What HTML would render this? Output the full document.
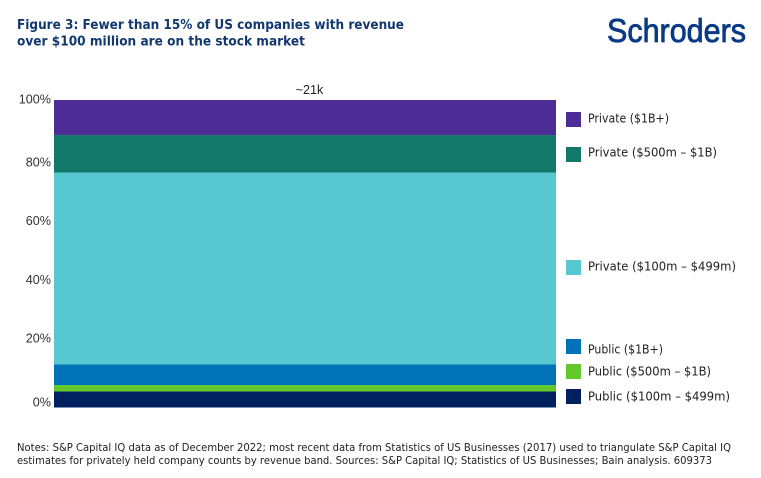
<!DOCTYPE html>
<html lang="en">
<head>
<meta charset="utf-8">
<title>Figure 3: Fewer than 15% of US companies</title>
<style>
html,body{margin:0;padding:0;background:#fff;width:761px;height:478px;overflow:hidden}
svg{display:block}
.ax{font-family:"Liberation Sans",sans-serif;font-size:12.6px;fill:#333}
.leg{font-family:"DejaVu Sans","Liberation Sans",sans-serif;font-size:12px;fill:#222}
.note{font-family:"DejaVu Sans","Liberation Sans",sans-serif;font-size:10.5px;fill:#222}
.ttl{font-family:"DejaVu Sans","Liberation Sans",sans-serif;font-size:13.6px;font-weight:700;fill:#12396f}
</style>
</head>
<body>
<svg id="chart" width="761" height="478" viewBox="0 0 761 478" xmlns="http://www.w3.org/2000/svg">
  <rect width="761" height="478" fill="#fff"/>
  <g>
    <text class="ttl" x="17" y="29" textLength="387" lengthAdjust="spacingAndGlyphs">Figure 3: Fewer than 15% of US companies with revenue</text>
    <text class="ttl" x="17" y="45.500" textLength="288" lengthAdjust="spacingAndGlyphs">over $100 million are on the stock market</text>
  </g>
  <text x="607" y="42" font-family="'Liberation Sans',sans-serif" font-size="33" font-weight="400" fill="#0a3a85" stroke="#0a3a85" stroke-width="0.8" textLength="139" lengthAdjust="spacingAndGlyphs">Schroders</text>
  <text class="ax" x="309.500" y="94" text-anchor="middle" style="fill:#222">~21k</text>
  <g id="bars"></g>
  <g id="ticks"></g>
  <g>
    <g><rect x="566" y="112" width="15" height="15" fill="#4f2d96"/><text class="leg" x="588" y="122.500" textLength="81" lengthAdjust="spacingAndGlyphs">Private ($1B+)</text></g>
    <g><rect x="566" y="147" width="15" height="15" fill="#12786a"/><text class="leg" x="588" y="156.500" textLength="129" lengthAdjust="spacingAndGlyphs">Private ($500m – $1B)</text></g>
    <g><rect x="566" y="260" width="15" height="15" fill="#57c8d0"/><text class="leg" x="588" y="270.500" textLength="148" lengthAdjust="spacingAndGlyphs">Private ($100m – $499m)</text></g>
    <g><rect x="566" y="339" width="15" height="15" fill="#0072b8"/><text class="leg" x="588" y="353.500" textLength="75" lengthAdjust="spacingAndGlyphs">Public ($1B+)</text></g>
    <g><rect x="566" y="364" width="15" height="15" fill="#64c82d"/><text class="leg" x="588" y="375.500" textLength="123" lengthAdjust="spacingAndGlyphs">Public ($500m – $1B)</text></g>
    <g><rect x="566" y="389" width="15" height="15" fill="#00205f"/><text class="leg" x="588" y="400.500" textLength="142" lengthAdjust="spacingAndGlyphs">Public ($100m – $499m)</text></g>
  </g>
  <g>
    <text class="note" x="17" y="451" textLength="714" lengthAdjust="spacingAndGlyphs">Notes: S&amp;P Capital IQ data as of December 2022; most recent data from Statistics of US Businesses (2017) used to triangulate S&amp;P Capital IQ</text>
    <text class="note" x="17" y="464" textLength="695" lengthAdjust="spacingAndGlyphs">estimates for privately held company counts by revenue band. Sources: S&amp;P Capital IQ; Statistics of US Businesses; Bain analysis. 609373</text>
  </g>
</svg>
<script>
const categories = ["Public ($100m – $499m)", "Public ($500m – $1B)", "Public ($1B+)", "Private ($100m – $499m)", "Private ($500m – $1B)", "Private ($1B+)"];
const seriesValues = [5.2, 2.1, 6.7, 62.4, 12.2, 11.4];
const seriesColors = ["#00205f", "#64c82d", "#0072b8", "#57c8d0", "#12786a", "#4f2d96"];
const tickValues = [100, 80, 60, 40, 20, 0];
const tickLabels = ["100%", "80%", "60%", "40%", "20%", "0%"];

const NS = "http://www.w3.org/2000/svg";
const plot = { left: 54, right: 556, top: 100, bottom: 407.5 };
const total = seriesValues.reduce(function (a, b) { return a + b; }, 0);
function yScale(v) { return plot.bottom - (v / total) * (plot.bottom - plot.top); }
/* The source places its tick labels by hand: inner ticks evenly spaced, end ticks pushed outward. */
function tickY(v) {
  const y = 396.7 - (v / 100) * 293.4;
  if (v === 100) return y - 4.3;
  if (v === 0) return y + 5.3;
  return y;
}

const barsGroup = document.getElementById("bars");
let cumulative = 0;
seriesValues.forEach(function (val, i) {
  const rect = document.createElementNS(NS, "rect");
  const y0 = yScale(cumulative);
  const y1 = yScale(cumulative + val);
  rect.setAttribute("x", plot.left);
  rect.setAttribute("width", plot.right - plot.left);
  rect.setAttribute("y", y1);
  rect.setAttribute("height", y0 - y1);
  rect.setAttribute("fill", seriesColors[i]);
  
  
  const tip = document.createElementNS(NS, "title");
  tip.textContent = categories[i];
  rect.appendChild(tip);
  barsGroup.appendChild(rect);
  cumulative += val;
});

const ticksGroup = document.getElementById("ticks");
tickValues.forEach(function (v, i) {
  const t = document.createElementNS(NS, "text");
  t.setAttribute("class", "ax");
  t.setAttribute("x", 51);
  t.setAttribute("y", tickY(v) + 4.500);
  t.setAttribute("text-anchor", "end");
  
  
  t.textContent = tickLabels[i];
  ticksGroup.appendChild(t);
});
</script>
</body>
</html>
